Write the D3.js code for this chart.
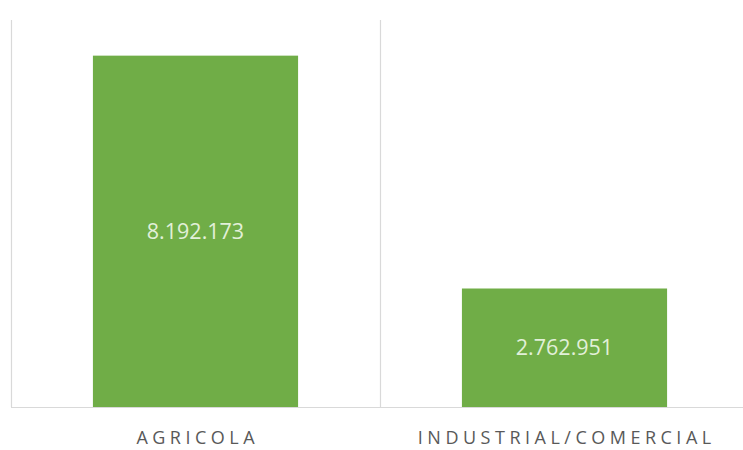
<!DOCTYPE html>
<html>
<head>
<meta charset="utf-8">
<script src="https://cdn.jsdelivr.net/npm/d3@7"></script>
<style>
  body { margin: 0; background: #fff; }
  #chart { width: 743px; height: 450px; }
</style>
</head>
<body>
<div id="chart"></div>
<script>
const categories = ["AGRICOLA", "INDUSTRIAL/COMERCIAL"];
const values = [8192173, 2762951];
const valueLabels = ["8.192.173", "2.762.951"];
const yMax = 9000000;

drawChart();

function drawChart() {
  const width = 743;
  const height = 450;
  const left = 11;
  const right = 749;
  const top = 21;
  const bottom = 407;
  const spacing = 4.5;

  const svg = d3.select("#chart")
    .append("svg")
    .attr("width", width)
    .attr("height", height);

  const xScale = d3.scaleBand()
    .domain(categories)
    .range([left, right])
    .paddingInner(0.444)
    .paddingOuter(0.222);

  const yScale = d3.scaleLinear()
    .domain([0, yMax])
    .range([bottom, top]);

  // category separators
  const edges = [left, left + xScale.step()];
  svg.selectAll("line.sep")
    .data(edges)
    .enter()
    .append("line")
    .attr("class", "sep")
    .attr("x1", (d) => d + 0.5)
    .attr("x2", (d) => d + 0.5)
    .attr("y1", top - 1)
    .attr("y2", bottom)
    .style("stroke", "#d9d9d9")
    .style("stroke-width", 1.2);

  svg.selectAll("rect.bar")
    .data(values)
    .enter()
    .append("rect")
    .attr("class", "bar")
    .attr("x", (d, i) => xScale(categories[i]))
    .attr("width", xScale.bandwidth())
    .attr("y", (d) => yScale(d))
    .attr("height", (d) => bottom - yScale(d))
    .style("fill", "#70ad47");

  // baseline
  svg.append("line")
    .attr("x1", left)
    .attr("x2", width)
    .attr("y1", bottom + 0.5)
    .attr("y2", bottom + 0.5)
    .style("stroke", "#d9d9d9")
    .style("stroke-width", 1.2);

  svg.selectAll("text.val")
    .data(values)
    .enter()
    .append("text")
    .attr("class", "val")
    .attr("x", (d, i) => xScale(categories[i]) + xScale.bandwidth() / 2)
    .attr("y", (d) => (yScale(d) + bottom) / 2)
    .attr("dy", "0.36em")
    .style("text-anchor", "middle")
    .style("font-family", "'Open Sans', sans-serif")
    .style("font-size", "21.5px")
    .style("fill", "#e2f0d9")
    .text((d, i) => valueLabels[i]);

  svg.selectAll("text.cat")
    .data(categories)
    .enter()
    .append("text")
    .attr("class", "cat")
    .attr("x", (d) => xScale(d) + xScale.bandwidth() / 2 + spacing / 2)
    .attr("y", 444)
    .style("text-anchor", "middle")
    .style("font-family", "'Open Sans', sans-serif")
    .style("font-size", "18px")
    .style("letter-spacing", spacing + "px")
    .style("fill", "#595959")
    .text((d) => d);
}
</script>
</body>
</html>
